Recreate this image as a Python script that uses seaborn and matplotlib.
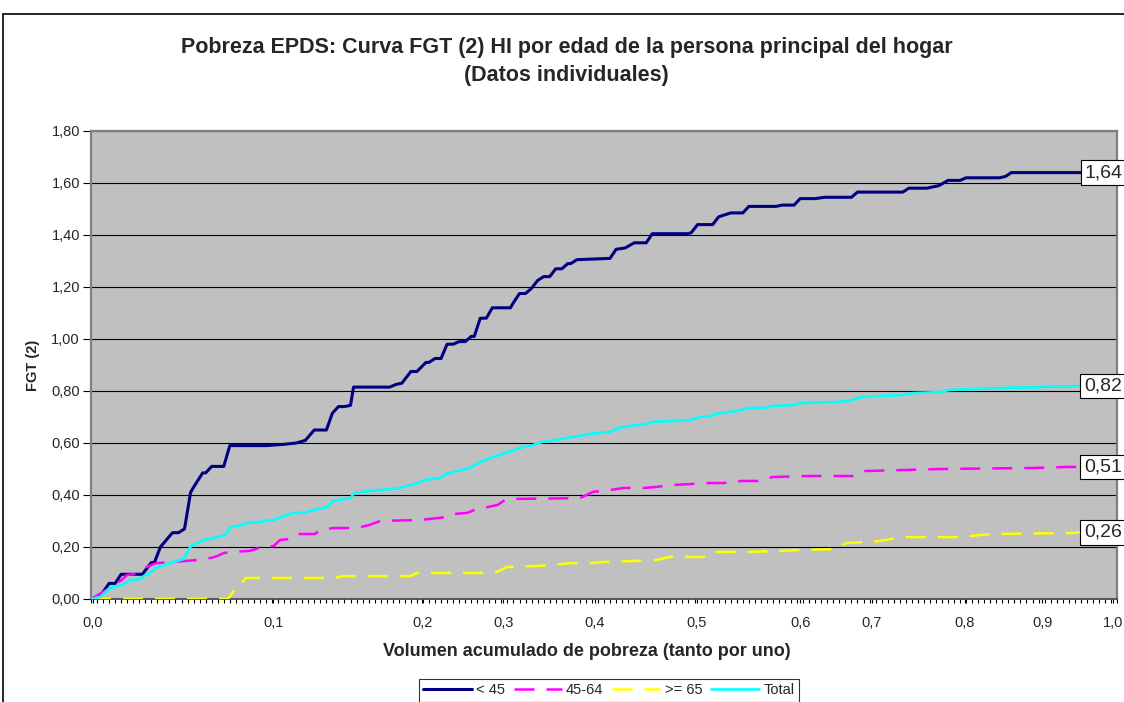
import numpy as np
import pandas as pd
import seaborn as sns
import matplotlib
matplotlib.use('Agg')
from matplotlib import pyplot as plt
from matplotlib.ticker import FixedLocator, MultipleLocator

# x positions are category positions along the (Excel-like) category axis
x_menor45 = [0, 1.5, 3, 4, 5, 8.5, 10, 10.5, 11.5, 13.5,
             14.5, 15.5, 16.5, 17, 18.5, 19, 20, 22, 23, 29,
             32, 34, 35.5, 37, 39, 40, 41, 42, 43, 43.5,
             49.5, 50.5, 51.5, 52.5, 53, 54, 55.5, 56, 57, 58,
             59, 60, 61, 62, 63, 63.5, 64.5, 65.5, 66.5, 69.5,
             70, 71, 72, 73, 74, 75, 76, 77, 78, 79,
             79.5, 80.5, 86, 87, 88.5, 90, 92, 93, 99, 99.5,
             100.5, 103, 104, 106, 108, 109, 113.5, 114.5, 116.5, 117.5,
             120, 121.5, 126, 127, 134.5, 135.5, 138.5, 140.5, 142, 144,
             145, 150.5, 151.5, 152.5, 164]
y_menor45 = [0, 0.01, 0.06, 0.06, 0.095, 0.095, 0.14, 0.14, 0.2, 0.255,
             0.255, 0.27, 0.41, 0.43, 0.485, 0.485, 0.51, 0.51, 0.59, 0.59,
             0.595, 0.6, 0.61, 0.65, 0.65, 0.715, 0.74, 0.74, 0.745, 0.815,
             0.815, 0.825, 0.83, 0.86, 0.875, 0.875, 0.91, 0.91, 0.925, 0.925,
             0.98, 0.98, 0.99, 0.99, 1.01, 1.01, 1.08, 1.08, 1.12, 1.12,
             1.14, 1.175, 1.175, 1.195, 1.225, 1.24, 1.24, 1.27, 1.27, 1.29,
             1.29, 1.305, 1.31, 1.345, 1.35, 1.37, 1.37, 1.405, 1.405, 1.41,
             1.44, 1.44, 1.47, 1.485, 1.485, 1.51, 1.51, 1.515, 1.515, 1.54,
             1.54, 1.545, 1.545, 1.565, 1.565, 1.58, 1.58, 1.59, 1.61, 1.61,
             1.62, 1.62, 1.625, 1.64, 1.64]

x_45_64 = [0, 2.6, 3.6, 5.1, 5.9, 7.3, 9.2, 10.8, 13.4, 17.6,
           19.9, 20.9, 22, 23.5, 26.3, 27.8, 30.3, 31.3, 33, 34.1,
           37.1, 37.9, 40.1, 44, 46.2, 47.9, 54.5, 58.9, 60, 62.3,
           63.9, 65, 67.4, 68.6, 70.5, 81, 83.2, 86, 88.2, 91.5,
           93.7, 95.9, 99.3, 101.4, 104.7, 107.8, 111.4, 112.8, 118.6, 126.3,
           127.9, 134.5, 140.7, 156.1, 161.9, 163.9]
y_45_64 = [0, 0.035, 0.054, 0.073, 0.092, 0.096, 0.123, 0.138, 0.142, 0.15,
           0.158, 0.165, 0.177, 0.181, 0.185, 0.196, 0.204, 0.227, 0.231, 0.25,
           0.25, 0.265, 0.273, 0.273, 0.285, 0.3, 0.304, 0.315, 0.327, 0.331,
           0.346, 0.35, 0.362, 0.381, 0.385, 0.388, 0.412, 0.419, 0.427, 0.427,
           0.431, 0.438, 0.442, 0.446, 0.446, 0.454, 0.454, 0.469, 0.473, 0.473,
           0.492, 0.496, 0.5, 0.504, 0.508, 0.508]

x_65mas = [0, 22.7, 23.9, 24.4, 25.6, 40.1, 41.8, 52.9, 54, 66.9,
           68.9, 73.9, 76.6, 79.4, 82.7, 84.8, 89.8, 93.7, 95.9, 102,
           103.1, 109.2, 116.9, 122.9, 125.2, 130.7, 134.5, 144, 147.3, 149.5,
           162.7, 163.9]
y_65mas = [0, 0, 0.038, 0.038, 0.081, 0.081, 0.088, 0.088, 0.1, 0.1,
           0.123, 0.127, 0.131, 0.138, 0.138, 0.142, 0.146, 0.15, 0.162, 0.162,
           0.181, 0.181, 0.188, 0.192, 0.215, 0.223, 0.238, 0.238, 0.246, 0.25,
           0.254, 0.257]

x_total = [0, 1.5, 3.1, 5.1, 6.5, 7.6, 9.1, 10.9, 12.1, 14.2,
           15.4, 16.4, 17.6, 18.6, 19.7, 20.8, 22.2, 23.2, 24.4, 25.8,
           27.7, 30.3, 31.6, 33.5, 35, 39.1, 40.1, 42.9, 43.7, 46.2,
           51.2, 52.3, 54.2, 55.3, 57.8, 58.9, 62.8, 64.5, 66.6, 68.3,
           71.1, 73.2, 74.7, 77.2, 78.8, 82.7, 83.8, 86, 87.3, 90.4,
           92.1, 93.1, 99.3, 100.9, 102.6, 104.2, 107, 109.2, 111.7, 112.8,
           116.3, 117.8, 124.1, 126, 127.9, 134.5, 136.2, 140.7, 142.3, 151.7,
           157.2, 163.9]
y_total = [0, 0.008, 0.042, 0.054, 0.073, 0.073, 0.092, 0.119, 0.131, 0.146,
           0.154, 0.2, 0.215, 0.227, 0.231, 0.238, 0.246, 0.277, 0.281, 0.292,
           0.296, 0.304, 0.315, 0.331, 0.331, 0.354, 0.377, 0.388, 0.408, 0.415,
           0.427, 0.435, 0.446, 0.458, 0.465, 0.481, 0.504, 0.527, 0.546, 0.558,
           0.581, 0.592, 0.604, 0.612, 0.619, 0.635, 0.638, 0.642, 0.658, 0.669,
           0.673, 0.681, 0.688, 0.7, 0.704, 0.715, 0.723, 0.735, 0.735, 0.742,
           0.746, 0.754, 0.758, 0.765, 0.777, 0.785, 0.792, 0.796, 0.804, 0.812,
           0.815, 0.819]

# tick labels of the category axis and where they sit
x_tick_pos = [0.3, 30.2, 54.9, 68.3, 83.5, 100.4, 117.5, 129.4, 144.8, 157.6, 169.3]
x_tick_labels = ['0,0', '0,1', '0,2', '0,3', '0,4', '0,5', '0,6', '0,7', '0,8', '0,9', '1,0']
y_ticks = [0, 0.2, 0.4, 0.6, 0.8, 1.0, 1.2, 1.4, 1.6, 1.8]
y_tick_labels = ['0,00', '0,20', '0,40', '0,60', '0,80', '1,00', '1,20', '1,40', '1,60', '1,80']

end_labels = ['1,64', '0,51', '0,26', '0,82']

sns.set_style('ticks')
plt.rcParams['font.family'] = ['Liberation Sans', 'DejaVu Sans']

fig = plt.figure(figsize=(11.24, 7.02), dpi=100)
ax = fig.add_axes([91 / 1124, 1 - 599 / 702, (1117 - 91) / 1124, (599 - 131) / 702])
ax.set_facecolor('#C0C0C0')

series = [
    ('< 45', x_menor45, y_menor45, '#000080', '-', 2.2),
    ('45-64', x_45_64, y_45_64, '#FF00FF', (0, (8, 4.8)), 1.8),
    ('>= 65', x_65mas, y_65mas, '#FFFF00', (0, (8, 4.8)), 1.8),
    ('Total', x_total, y_total, '#00FFFF', '-', 1.9),
]

# gridlines first, below the curves
for yv in y_ticks[1:]:
    ax.axhline(yv, color='black', linewidth=0.8, zorder=1)

for (name, xs, ys, col, ls, lw), lab in zip(series, end_labels):
    sns.lineplot(x=xs, y=ys, ax=ax, color=col, linestyle=ls, linewidth=lw,
                 estimator=None, sort=False, label=name, zorder=3)
    ax.annotate(lab, xy=(xs[-1], ys[-1]), xytext=(3, 0), textcoords='offset points',
                ha='left', va='center', fontsize=14, annotation_clip=False,
                bbox=dict(boxstyle='square,pad=0.2', facecolor='white',
                          edgecolor='black', linewidth=0.8), zorder=5)

ax.set_xlim(0, 170)
ax.set_ylim(0, 1.8)

ax.xaxis.set_major_locator(FixedLocator(x_tick_pos))
ax.set_xticklabels(x_tick_labels, fontsize=10.5)
ax.xaxis.set_minor_locator(MultipleLocator(1))
ax.tick_params(axis='x', which='both', direction='out', length=3, width=0.8,
               color='black', pad=9)
ax.set_yticks(y_ticks)
ax.set_yticklabels(y_tick_labels, fontsize=10.5)
ax.tick_params(axis='y', direction='out', length=6, width=0.8, color='black', pad=2)

for side in ['left', 'top', 'right']:
    ax.spines[side].set_color('#808080')
    ax.spines[side].set_linewidth(1.6)
ax.spines['bottom'].set_color('#404040')
ax.spines['bottom'].set_linewidth(1.2)

ax.set_ylabel('FGT (2)', fontsize=10.5, fontweight='bold', labelpad=8)
fig.text(587 / 1124, 1 - 651 / 702, 'Volumen acumulado de pobreza (tanto por uno)',
         ha='center', va='center', fontsize=13, fontweight='bold')

fig.text(0.504, 1 - 47 / 702,
         'Pobreza EPDS: Curva FGT (2) HI por edad de la persona principal del hogar',
         ha='center', va='center', fontsize=15.5, fontweight='bold')
fig.text(0.504, 1 - 75 / 702, '(Datos individuales)',
         ha='center', va='center', fontsize=15.5, fontweight='bold')

handles, labels = ax.get_legend_handles_labels()
ax.get_legend().remove()
leg = fig.legend(handles, labels, loc='upper left',
                 bbox_to_anchor=(419 / 1124, 1 - 679 / 702), ncol=4,
                 frameon=True, fancybox=False, edgecolor='black', fontsize=10.5,
                 handlelength=3.3, handletextpad=0.3, columnspacing=0.6,
                 borderpad=0.3, borderaxespad=0)
leg.get_frame().set_linewidth(0.8)

# outer chart border
fig.add_artist(plt.Rectangle((3 / 1124, -0.02), 1.05, 1 - 14 / 702 + 0.02,
                             transform=fig.transFigure, fill=False,
                             edgecolor='black', linewidth=1.2))

fig.savefig('out.png', dpi=100)
